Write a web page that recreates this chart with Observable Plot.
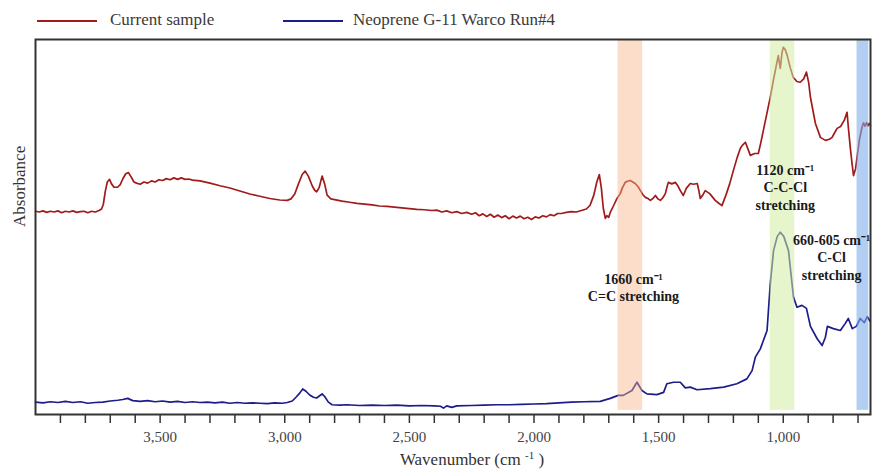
<!DOCTYPE html>
<html>
<head>
<meta charset="utf-8">
<script src="https://cdn.jsdelivr.net/npm/d3@7"></script>
<script src="https://cdn.jsdelivr.net/npm/@observablehq/plot@0.6"></script>
<style>
  body { margin: 0; background: #fff; }
  #wrap { position: relative; width: 873px; height: 470px; font-family: "Liberation Serif", "Times New Roman", serif; color: #333; }
  .leg-line { position: absolute; height: 2px; width: 60px; top: 19.5px; }
  .leg-text { position: absolute; top: 8px; font-size: 17px; line-height: 24px; white-space: nowrap; color: #3a3a3a; }
  #xlabel { position: absolute; left: 0; width: 944px; text-align: center; top: 449px; font-size: 17px; white-space: nowrap; color: #333; }
  #xlabel sup { font-size: 11px; vertical-align: 6px; }
  #chart { position: absolute; left: 0; top: 0; }
</style>
</head>
<body>
<div id="wrap">
  <div id="chart"></div>
  <div class="leg-line" id="ll0" style="left:37px"></div>
  <div class="leg-text" id="lt0" style="left:110px"></div>
  <div class="leg-line" id="ll1" style="left:283px"></div>
  <div class="leg-text" id="lt1" style="left:353px"></div>
  <div id="xlabel">Wavenumber (cm <sup>-1</sup> )</div>
</div>
<script>
// ---- Series names & colours ----
const seriesNames = ["Current sample", "Neoprene G-11 Warco Run#4"];
const seriesColors = ["#a11b1b", "#1c1c8a"];

// ---- Current sample: [wavenumber cm-1, absorbance (a.u., offset)] ----
const currentSample = [
  [4000,54.2],[3985,54.0],[3970,54.3],[3955,53.9],[3940,54.2],[3925,54.0],[3910,54.3],[3895,53.8],
  [3880,54.2],[3865,54.0],[3850,54.3],[3835,53.9],[3820,54.1],[3805,54.2],[3790,53.8],[3775,54.2],
  [3760,54.0],[3745,54.4],[3735,54.8],[3728,56.0],[3720,59.5],[3712,62.0],[3703,62.7],[3695,61.5],
  [3685,60.6],[3671,60.6],[3660,61.3],[3650,62.8],[3638,64.2],[3627,64.5],[3615,63.2],[3605,62.0],
  [3595,61.7],[3580,61.4],[3565,62.0],[3550,61.7],[3535,62.3],[3520,62.0],[3505,62.6],[3490,62.4],
  [3475,62.9],[3460,62.6],[3445,63.1],[3430,62.7],[3415,63.1],[3400,62.7],[3385,62.8],[3370,62.5],
  [3340,62.3],[3300,61.7],[3260,61.0],[3220,60.4],[3180,59.6],[3140,58.8],[3100,58.2],[3060,57.6],
  [3020,57.2],[2990,57.1],[2975,57.5],[2960,58.8],[2945,61.5],[2930,64.0],[2918,64.9],[2905,63.5],
  [2890,61.0],[2880,59.8],[2872,59.4],[2862,60.5],[2850,63.6],[2840,61.5],[2830,58.5],[2815,57.5],
  [2800,57.3],[2770,56.9],[2740,56.6],[2710,56.3],[2680,56.1],[2650,55.9],[2620,55.6],[2590,55.5],
  [2560,55.3],[2530,55.1],[2500,54.9],[2470,54.7],[2440,54.6],[2410,54.4],[2390,54.5],[2370,54.0],
  [2350,54.3],[2330,53.8],[2310,54.1],[2290,53.6],[2270,53.9],[2250,53.4],[2235,53.8],[2220,53.0],
  [2205,53.5],[2190,52.8],[2175,53.4],[2160,52.6],[2145,53.2],[2130,52.5],[2115,53.0],[2100,52.2],
  [2085,52.9],[2070,52.4],[2055,52.9],[2040,52.2],[2025,52.6],[2010,52.0],[1995,52.7],[1980,52.4],
  [1965,53.0],[1950,52.7],[1935,53.3],[1920,53.0],[1905,53.6],[1890,53.6],[1870,53.9],[1850,54.1],
  [1830,54.0],[1810,54.4],[1790,54.8],[1775,55.8],[1760,58.5],[1748,62.0],[1738,64.0],[1730,60.5],
  [1722,55.0],[1714,52.3],[1708,53.0],[1700,52.6],[1694,53.9],[1680,55.8],[1668,57.5],[1654,58.9],
  [1645,60.5],[1634,61.9],[1625,62.2],[1614,62.4],[1604,62.0],[1594,61.6],[1583,60.8],[1573,59.7],
  [1563,58.6],[1553,57.9],[1543,57.6],[1533,57.1],[1523,57.6],[1513,58.4],[1503,57.5],[1493,57.1],
  [1483,57.8],[1473,58.9],[1465,61.0],[1461,61.9],[1447,61.5],[1433,61.9],[1423,61.0],[1413,59.7],
  [1401,58.4],[1389,60.3],[1373,61.6],[1360,61.4],[1345,61.6],[1338,59.5],[1333,57.6],[1323,58.5],
  [1313,59.7],[1295,58.9],[1273,57.1],[1260,56.4],[1246,55.7],[1230,58.5],[1215,61.5],[1200,65.1],
  [1185,68.5],[1172,71.0],[1165,71.7],[1152,72.6],[1140,70.5],[1132,69.1],[1115,69.6],[1100,69.6],
  [1090,72.5],[1080,75.7],[1065,80.5],[1052,84.6],[1040,89.0],[1032,91.7],[1020,95.7],[1012,92.3],
  [1005,96.5],[1000,97.9],[992,97.3],[984,95.7],[972,92.5],[960,89.9],[945,88.8],[932,88.6],
  [918,89.5],[907,91.3],[898,88.5],[891,84.6],[871,77.6],[851,73.9],[831,73.1],[815,73.4],
  [804,73.9],[795,75.0],[784,76.3],[770,76.8],[755,78.5],[744,80.6],[739,76.6],[730,70.5],
  [724,66.9],[718,63.7],[710,65.5],[704,68.6],[694,73.5],[684,76.6],[678,77.8],[672,76.9],
  [666,77.8],[660,77.0],[655,77.6],[650,77.1]
];

// ---- Neoprene G-11 Warco Run#4 ----
const neopreneRef = [
  [4000,3.3],[3970,3.1],[3940,3.4],[3910,3.2],[3880,3.5],[3850,3.2],[3820,3.4],[3790,3.0],
  [3760,3.2],[3730,3.3],[3700,3.6],[3670,3.8],[3650,4.0],[3630,4.3],[3610,3.7],[3580,3.5],
  [3550,3.7],[3520,3.4],[3490,3.6],[3460,3.3],[3430,3.5],[3400,3.2],[3370,3.4],[3340,3.2],
  [3310,3.3],[3280,3.1],[3250,3.3],[3220,3.0],[3190,3.2],[3160,3.0],[3130,3.1],[3100,3.0],
  [3070,2.9],[3040,3.1],[3010,3.0],[2990,3.2],[2970,3.6],[2955,4.6],[2940,5.7],[2928,6.8],
  [2915,6.2],[2900,5.2],[2885,4.6],[2872,4.4],[2860,5.0],[2850,5.5],[2840,4.8],[2825,3.3],
  [2810,2.6],[2780,2.5],[2750,2.6],[2700,2.4],[2650,2.5],[2600,2.4],[2550,2.5],[2500,2.3],
  [2450,2.4],[2400,2.3],[2375,2.2],[2363,1.7],[2350,2.3],[2330,1.9],[2310,2.3],[2250,2.4],
  [2200,2.5],[2150,2.6],[2100,2.6],[2050,2.7],[2000,2.8],[1950,2.9],[1900,3.1],[1850,3.3],
  [1800,3.4],[1734,3.5],[1694,4.3],[1662,5.1],[1642,5.1],[1607,6.4],[1587,8.6],[1567,6.4],
  [1547,5.5],[1507,5.3],[1480,5.9],[1467,8.2],[1440,8.6],[1413,8.6],[1393,7.1],[1373,7.3],
  [1346,6.6],[1293,6.9],[1239,7.3],[1186,8.2],[1146,9.5],[1125,11.7],[1112,15.3],[1092,17.5],
  [1065,22.4],[1052,34.9],[1039,43.7],[1024,47.5],[1012,48.6],[998,47.5],[979,43.7],[959,31.3],
  [945,28.6],[925,29.1],[907,28.3],[891,23.5],[864,20.2],[844,18.4],[831,20.6],[823,23.5],
  [799,22.9],[771,22.4],[751,24.3],[739,25.6],[723,22.9],[707,23.5],[691,25.6],[675,24.5],
  [663,26.1],[651,24.8]
];

// ---- Highlight bands (wavenumber ranges) ----
const bandStart = [1663, 1052, 704];
const bandEnd   = [1564, 954, 657];
const bandFill  = ["#f7b489", "#d2eca2", "#7eaeea"];
const bandOpacity = [0.45, 0.55, 0.6];

// ---- Annotations ----
const annotationText = ["1660 cm⁻¹\nC=C stretching", "1120 cm⁻¹\nC-C-Cl\nstretching", "660-605 cm⁻¹\nC-Cl\nstretching"];
const annotationX = [1601, 992, 806];
const annotationY = [34.0, 60.8, 42.1];

// ---- Axis ticks ----
const tickValues = d3.range(700, 4000, 100);
const labelledTicks = [3500, 3000, 2500, 2000, 1500, 1000];

const toRows = (arr) => arr.map(([w, a]) => ({w, a}));
const bands = bandStart.map((s, i) => ({x1: s, x2: bandEnd[i], fill: bandFill[i], op: bandOpacity[i]}));
const annotations = annotationText.map((t, i) => ({t, x: annotationX[i], y: annotationY[i]}));
const fmt = d3.format(",");

const chart = Plot.plot({
  width: 873,
  height: 470,
  marginLeft: 35,
  marginRight: 3,
  marginTop: 39,
  marginBottom: 56,
  x: {domain: [4000, 650]},
  y: {domain: [0, 100], axis: null},
  style: {fontFamily: "Liberation Serif, Times New Roman, serif", background: "transparent", overflow: "visible"},
  marks: [
    Plot.line(toRows(currentSample), {x: "w", y: "a", stroke: seriesColors[0], strokeWidth: 1.7}),
    Plot.line(toRows(neopreneRef), {x: "w", y: "a", stroke: seriesColors[1], strokeWidth: 1.7}),
    Plot.rect(bands, {x1: "x1", x2: "x2", y1: 1.1, y2: 100, fill: "fill", fillOpacity: "op"}),
    Plot.frame({stroke: "#333", strokeWidth: 2}),
    Plot.text(annotations, {x: "x", y: "y", text: "t", fontWeight: "bold", fontSize: 14, lineHeight: 1.25, fill: "#1a1a1a"}),
    Plot.text(["Absorbance"], {frameAnchor: "left", rotate: -90, dx: -16, fontSize: 17, fill: "#333"}),
    Plot.axisX({
      ticks: tickValues,
      tickSize: 9,
      tickPadding: 8,
      tickFormat: d => labelledTicks.includes(d) ? fmt(d) : "",
      fontSize: 15,
      stroke: "#333",
      strokeWidth: 1.5,
      fill: "#444",
      label: null
    })
  ]
});
document.getElementById("chart").appendChild(chart);

// Legend
seriesNames.forEach((n, i) => {
  document.getElementById("ll" + i).style.background = seriesColors[i];
  document.getElementById("lt" + i).textContent = n;
});
</script>
</body>
</html>
